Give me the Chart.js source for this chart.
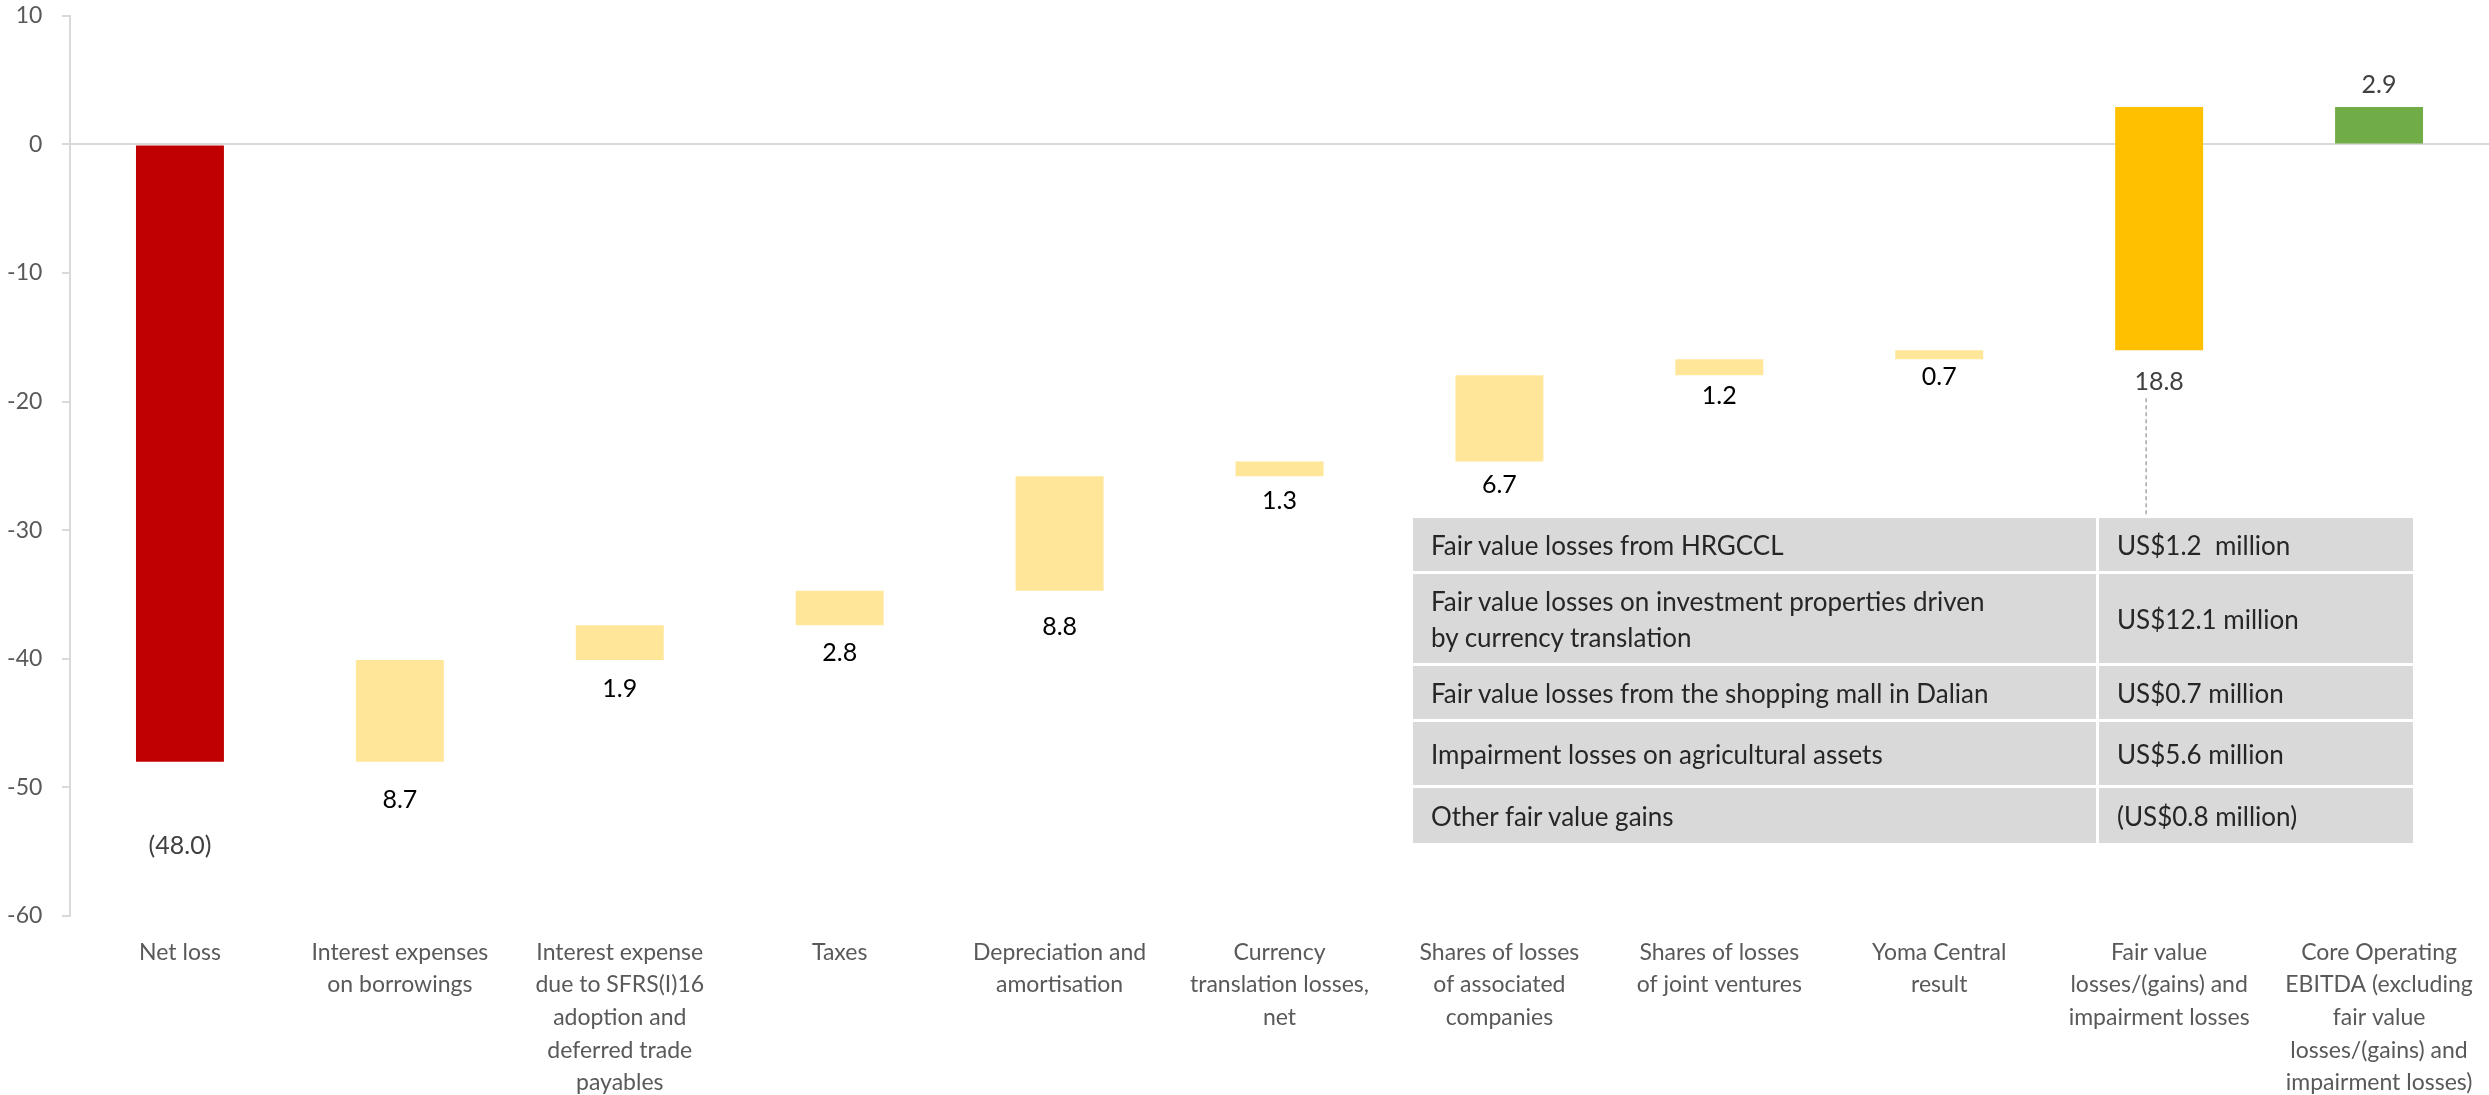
<!DOCTYPE html>
<html>
<head>
<meta charset="utf-8">
<script src="https://cdn.jsdelivr.net/npm/chart.js@4"></script>
<style>
  html, body { margin: 0; padding: 0; background: #fff; }
  #wrap { position: relative; width: 2489px; height: 1095px; }
  #bridgeTable {
    position: absolute;
    left: 1410px;
    top: 515px;
    width: 1006px;
    border-collapse: collapse;
    font-family: Lato, sans-serif;
    font-size: 26px;
    color: #262626;
  }
  #bridgeTable td {
    background: #d9d9d9;
    border: 3px solid #fff;
    padding: 0 18px;
    vertical-align: middle;
    line-height: 36px;
  }
  #bridgeTable td.amt { width: 278px; }
</style>
</head>
<body>
<div id="wrap">
  <canvas id="bridgeChart" width="2489" height="1095"></canvas>
  <table id="bridgeTable"></table>
</div>
<script>
const categories = [
  ["Net loss"],
  ["Interest expenses", "on borrowings"],
  ["Interest expense", "due to SFRS(I)16", "adoption and", "deferred trade", "payables"],
  ["Taxes"],
  ["Depreciation and", "amortisation"],
  ["Currency", "translation losses,", "net"],
  ["Shares of losses", "of associated", "companies"],
  ["Shares of losses", "of joint ventures"],
  ["Yoma Central", "result"],
  ["Fair value", "losses/(gains) and", "impairment losses"],
  ["Core Operating", "EBITDA (excluding", "fair value", "losses/(gains) and", "impairment losses)"],
];

// floating bars: where each step starts and ends (US$ million)
const barStart = [0, -48.0, -40.1, -37.4, -34.7, -25.8, -24.65, -17.95, -16.7, -16.0, 0];
const barEnd = [-48.0, -40.1, -37.4, -34.7, -25.8, -24.65, -17.95, -16.7, -16.0, 2.9, 2.9];
const valueLabels = ["(48.0)", "8.7", "1.9", "2.8", "8.8", "1.3", "6.7", "1.2", "0.7", "18.8", "2.9"];

const yTicks = [10, 0, -10, -20, -30, -40, -50, -60];

const tableItems = [
  "Fair value losses from HRGCCL",
  "Fair value losses on investment properties driven<br>by currency translation",
  "Fair value losses from the shopping mall in Dalian",
  "Impairment losses on agricultural assets",
  "Other fair value gains",
];
const tableAmounts = [
  "US$1.2&nbsp; million",
  "US$12.1 million",
  "US$0.7 million",
  "US$5.6 million",
  "(US$0.8 million)",
];

const barColors = [
  "#c00000", "#ffe699", "#ffe699", "#ffe699", "#ffe699", "#ffe699",
  "#ffe699", "#ffe699", "#ffe699", "#ffc000", "#70ad47",
];

// build the side table
const rowHeights = [56, 92, 56, 66, 58];
const table = document.getElementById("bridgeTable");
tableItems.forEach(function (item, i) {
  const tr = document.createElement("tr");
  tr.style.height = rowHeights[i] + "px";
  tr.innerHTML = "<td>" + item + "</td><td class='amt'>" + tableAmounts[i] + "</td>";
  table.appendChild(tr);
});

// value labels under (or above) each bar, plus the dashed leader to the table
const labelPlugin = {
  id: "valueLabels",
  afterDatasetsDraw(chart) {
    const ctx = chart.ctx;
    const meta = chart.getDatasetMeta(0);
    const gaps = [84, 38, 29, 28, 36, 25, 24, 21, 18, 32, -22];
    const grey = [0, 9, 10];

    ctx.save();
    ctx.font = "25px Lato";
    ctx.textAlign = "center";
    ctx.textBaseline = "middle";

    meta.data.forEach(function (bar, i) {
      const top = Math.min(bar.y, bar.base);
      const bottom = Math.max(bar.y, bar.base);
      const y = gaps[i] > 0 ? bottom + gaps[i] : top + gaps[i];
      ctx.fillStyle = grey.includes(i) ? "#404040" : "#000000";
      ctx.fillText(valueLabels[i], bar.x, y);
    });

    // leader line from 18.8 to the table
    const fv = meta.data[9];
    const fvBottom = Math.max(fv.y, fv.base);
    ctx.strokeStyle = "#a6a6a6";
    ctx.lineWidth = 1.5;
    ctx.setLineDash([4, 3]);
    ctx.beginPath();
    ctx.moveTo(fv.x - 13, fvBottom + 48);
    ctx.lineTo(fv.x - 13, 515);
    ctx.stroke();
    ctx.restore();
  },
};

const bridgeCtx = document.getElementById("bridgeChart");

new Chart(bridgeCtx, {
  type: "bar",

  data: {
    labels: categories,

    datasets: [
      {
        data: barStart.map(function (s, i) {
          return [s, barEnd[i]];
        }),

        backgroundColor: barColors,

        borderWidth: 0,

        barPercentage: 0.4,

        categoryPercentage: 1,
      },
    ],
  },

  options: {
    responsive: false,
    animation: false,

    layout: {
      padding: 0,
    },

    plugins: {
      legend: { display: false },
      tooltip: { enabled: false },
    },

    scales: {
      x: {
        grid: { display: false },
        border: { display: false },
        ticks: {
          maxRotation: 0,
          autoSkip: false,
          padding: 12,
          color: "#595959",
          font: { family: "Lato", size: 23, lineHeight: 1.42 },
        },
        afterFit: function (axis) {
          axis.height = 179;
        },
      },

      y: {
        min: -60,
        max: 10,
        afterBuildTicks: function (axis) {
          axis.ticks = yTicks.map(function (v) {
            return { value: v };
          });
        },
        grid: {
          color: function (c) {
            return c.tick && c.tick.value === 0 ? "#d9d9d9" : "rgba(0,0,0,0)";
          },
          lineWidth: 2,
          tickColor: "#d9d9d9",
          tickLength: 8,
        },
        border: { display: true, color: "#d9d9d9", width: 2 },
        ticks: {
          // small padding keeps the top tight; trailing spaces push labels left
          padding: 2,
          color: "#595959",
          font: { family: "Lato", size: 23 },
          callback: function (value) {
            return value + "   ";
          },
        },
        afterFit: function (axis) {
          axis.width = 70;
        },
      },
    },
  },

  plugins: [labelPlugin],
});
</script>
</body>
</html>
